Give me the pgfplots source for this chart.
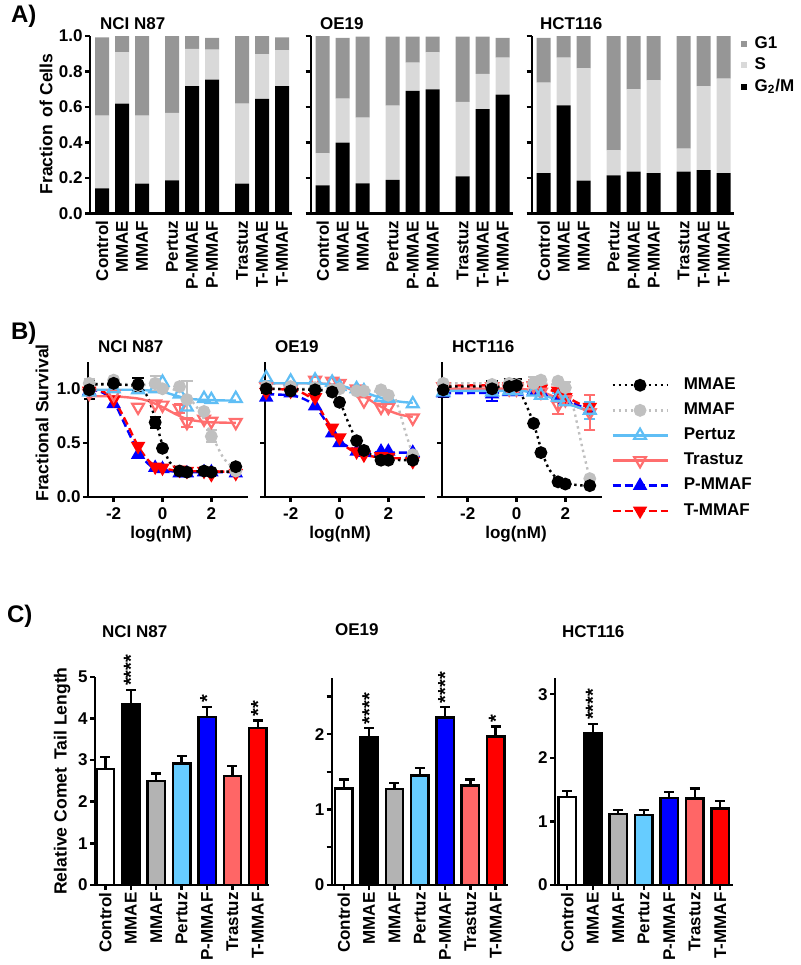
\documentclass[border=0pt]{standalone}
\usepackage{fontspec}
\setmainfont{Liberation Sans}
\usepackage{pgfplots}
\pgfplotsset{compat=1.18}
\definecolor{gone}{RGB}{150,150,150}
\definecolor{sph}{RGB}{217,217,217}
\definecolor{cgray}{RGB}{179,179,179}
\definecolor{lblue}{RGB}{102,204,255}
\definecolor{salmon}{RGB}{255,102,102}
\definecolor{pblue}{RGB}{0,0,255}
\definecolor{tred}{RGB}{255,0,0}
\definecolor{dgray}{RGB}{192,192,192}
\definecolor{bblue}{RGB}{95,190,245}
\definecolor{bsalmon}{RGB}{255,110,110}
\newcommand{\tck}{\fontsize{8.5}{10}\selectfont\bfseries}
\newcommand{\lbl}{\fontsize{8.5}{10}\selectfont\bfseries}
\tikzset{starlbl/.style={rotate=90, anchor=west, font=\fontsize{10}{12}\selectfont\bfseries, inner sep=1pt}}
\pgfplotsset{
  base/.style={scale only axis, anchor=south west, clip=false, enlargelimits=false,
    axis x line*=bottom, axis y line*=left,
    axis line style={line width=1.2pt},
    tick style={line width=1.2pt, black},
    tick align=outside, major tick length=2.5pt, minor tick length=2.5pt,
    tick label style={font=\tck, inner sep=1pt},
    /pgf/number format/assume math mode=true},
  aax/.style={width=101pt, height=88.65pt, xmin=-0.6, xmax=9.5, ymin=0, ymax=1,
    ybar stacked, bar width=7pt,
    xtick={0,1,2,3.5,4.5,5.5,7,8,9},
    xticklabels={Control,MMAE,MMAF,Pertuz,P-MMAE,P-MMAF,Trastuz,T-MMAE,T-MMAF},
    xticklabel style={rotate=90, anchor=east},
    x tick style={draw=none},
    ytick={0,0.2,0.4,0.6,0.8,1},
    yticklabel style={/pgf/number format/.cd, fixed, fixed zerofill, precision=1}},
  bax/.style={width=80pt, height=67.65pt, xmin=-3.05, xmax=3.5, ymin=0, ymax=1.25,
    xtick={-2,0,2}, ytick={0,0.5,1}, xticklabel style={yshift=-1.5pt},
    yticklabel style={/pgf/number format/.cd, fixed, fixed zerofill, precision=1}},
  cax/.style={ybar, bar width=8.75pt, every axis plot post/.append style={bar shift=0pt},
    ymin=0, xtick={0,1,2,3,4,5,6},
    xticklabels={Control,MMAE,MMAF,Pertuz,P-MMAF,Trastuz,T-MMAF},
    xticklabel style={rotate=90, anchor=east}},
  cbar/.style={draw=black, line width=1.2pt, fill=#1,
    error bars/.cd, y dir=plus, y explicit,
    error bar style={line width=1.2pt, draw=black},
    error mark options={rotate=90, mark size=2.5pt, line width=1.2pt, draw=black}},
  sE/.style={black, line width=1.2pt, dash pattern=on 1.2pt off 1.8pt, mark=*, mark size=2.6pt, mark options={solid, fill=black}},
  sF/.style={dgray, line width=1.2pt, dash pattern=on 1.2pt off 1.8pt, mark=*, mark size=2.6pt, mark options={solid, fill=dgray}},
  sP/.style={bblue, line width=1.2pt, solid, mark=triangle, mark size=3.4pt, mark options={solid, line width=1.1pt}},
  sT/.style={bsalmon, line width=1.2pt, solid, mark=triangle, mark size=3.4pt, mark options={solid, rotate=180, line width=1.1pt}},
  sPM/.style={pblue, line width=1.2pt, dash pattern=on 4pt off 2pt, mark=triangle*, mark size=3pt, mark options={solid, fill=pblue}},
  sTM/.style={tred, line width=1.2pt, dash pattern=on 4pt off 2pt, mark=triangle*, mark size=3pt, mark options={solid, rotate=180, fill=tred}},
  fit/.style={no marks, smooth, forget plot},
  dat/.style={only marks, forget plot},
  eb/.style={forget plot, draw=none, mark=none, error bars/.cd, y dir=both, y explicit,
    error bar style={draw=#1, line width=1pt, solid},
    error mark options={draw=#1, rotate=90, mark size=2.8pt, line width=1pt, solid}},
}
\begin{document}
\begin{tikzpicture}
\begin{scope}[x=0.5pt,y=-0.5pt]
\path[use as bounding box] (0,0) rectangle (800,965);
\node[anchor=west, font=\fontsize{12}{14}\selectfont\bfseries] at (4,16) {A)};
\node[anchor=west, font=\fontsize{12}{14}\selectfont\bfseries] at (4,333) {B)};
\node[anchor=west, font=\fontsize{12}{14}\selectfont\bfseries] at (0,616) {C)};
\node[anchor=west, font=\lbl] at (93,24) {NCI N87};
\node[anchor=west, font=\lbl] at (313,24) {OE19};
\node[anchor=west, font=\lbl] at (533,24) {HCT116};
\node[anchor=west, font=\lbl] at (91,347) {NCI N87};
\node[anchor=west, font=\lbl] at (268,347) {OE19};
\node[anchor=west, font=\lbl] at (445,347) {HCT116};
\node[anchor=west, font=\lbl] at (95,632) {NCI N87};
\node[anchor=west, font=\lbl] at (328,630) {OE19};
\node[anchor=west, font=\lbl] at (555,632) {HCT116};
\node[rotate=90, font=\fontsize{8.8}{10}\selectfont\bfseries] at (46,124) {Fraction\, of Cells};
\node[rotate=90, font=\fontsize{8.8}{10}\selectfont\bfseries] at (42,423) {Fractional Survival};
\node[rotate=90, font=\fontsize{8.8}{10}\selectfont\bfseries] at (62,781) {Relative Comet\, Tail Length};
\node[font=\lbl, inner sep=0pt] at (161,534) {log(nM)};
\node[font=\lbl, inner sep=0pt] at (340,534) {log(nM)};
\node[font=\lbl, inner sep=0pt] at (516,534) {log(nM)};
\end{scope}

% ---------------- Panel A ----------------
\begin{axis}[base, aax, at={(45pt,-106.65pt)}]
\addplot[fill=black, draw=none] coordinates {(0,0.141)(1,0.618)(2,0.167)(3.5,0.186)(4.5,0.718)(5.5,0.754)(7,0.167)(8,0.645)(9,0.718)};
\addplot[fill=sph, draw=none] coordinates {(0,0.410)(1,0.290)(2,0.384)(3.5,0.380)(4.5,0.209)(5.5,0.169)(7,0.451)(8,0.252)(9,0.201)};
\addplot[fill=gone, draw=none] coordinates {(0,0.441)(1,0.092)(2,0.449)(3.5,0.434)(4.5,0.073)(5.5,0.066)(7,0.382)(8,0.103)(9,0.073)};
\end{axis}
\begin{axis}[base, aax, at={(155.35pt,-106.65pt)}, yticklabels={}]
\addplot[fill=black, draw=none] coordinates {(0,0.158)(1,0.398)(2,0.169)(3.5,0.188)(4.5,0.690)(5.5,0.699)(7,0.209)(8,0.588)(9,0.669)};
\addplot[fill=sph, draw=none] coordinates {(0,0.180)(1,0.249)(2,0.370)(3.5,0.419)(4.5,0.160)(5.5,0.209)(7,0.419)(8,0.198)(9,0.209)};
\addplot[fill=gone, draw=none] coordinates {(0,0.662)(1,0.342)(2,0.457)(3.5,0.389)(4.5,0.146)(5.5,0.088)(7,0.368)(8,0.210)(9,0.111)};
\end{axis}
\begin{axis}[base, aax, at={(265.85pt,-106.65pt)}, yticklabels={},
  legend style={at={(1.035,1.014)}, anchor=north west, draw=none, fill=none, font=\lbl,
    inner sep=0pt, nodes={inner sep=1.2pt}, row sep=0.8pt, /tikz/column sep=2.5pt},
  legend cell align=left, reverse legend,
  legend image code/.code={\fill[#1] (0pt,-1.5pt) rectangle (3pt,1.5pt);}]
\addplot[fill=black, draw=none] coordinates {(0,0.226)(1,0.609)(2,0.184)(3.5,0.214)(4.5,0.235)(5.5,0.226)(7,0.235)(8,0.244)(9,0.226)};
\addplot[fill=sph, draw=none] coordinates {(0,0.511)(1,0.269)(2,0.634)(3.5,0.141)(4.5,0.464)(5.5,0.524)(7,0.130)(8,0.474)(9,0.533)};
\addplot[fill=gone, draw=none] coordinates {(0,0.252)(1,0.122)(2,0.182)(3.5,0.645)(4.5,0.301)(5.5,0.250)(7,0.635)(8,0.282)(9,0.241)};
\legend{G\textsubscript{2}/M, S, G1}
\end{axis}

% ---------------- Panel B ----------------
\begin{axis}[base, bax, at={(44pt,-248.5pt)}]
\addplot[sPM, fit] coordinates {(-3,0.99)(-2.5,0.97)(-2,0.88)(-1.5,0.65)(-1,0.42)(-0.5,0.29)(0,0.25)(0.5,0.235)(1,0.23)(2,0.23)(3,0.23)};
\addplot[sTM, fit] coordinates {(-3,0.99)(-2.5,0.98)(-2,0.9)(-1.5,0.7)(-1,0.47)(-0.5,0.32)(0,0.27)(0.5,0.245)(1,0.24)(2,0.235)(3,0.235)};
\addplot[sT, fit] coordinates {(-3,0.93)(-2,0.93)(-1,0.91)(-0.5,0.88)(0,0.83)(0.5,0.77)(1,0.72)(1.5,0.70)(2,0.69)(3,0.685)};
\addplot[sP, fit] coordinates {(-3,0.99)(-1,0.99)(0,0.97)(0.5,0.94)(1,0.91)(1.5,0.90)(2,0.895)(3,0.89)};
\addplot[sF, fit] coordinates {(-3,1.05)(-1,1.04)(0,1.02)(0.5,0.99)(1,0.93)(1.5,0.80)(2,0.58)(2.5,0.36)(3,0.25)};
\addplot[sE, fit] coordinates {(-3,1.04)(-2,1.04)(-1,1.02)(-0.6,0.92)(-0.3,0.72)(0,0.48)(0.3,0.32)(0.7,0.25)(1,0.24)(2,0.235)(3,0.235)};
\addplot[eb=dgray] coordinates {(-3,1.05) +- (0,0.04) (-0.3,1.05) +- (0,0.07) (1,0.9) +- (0,0.17) (2,0.56) +- (0,0.055)};
\addplot[eb=bsalmon] coordinates {(1,0.69) +- (0,0.04) (0.7,0.82) +- (0,0.04)};
\addplot[eb=black] coordinates {(-3,0.99) +- (0,0.08) (-1,1.04) +- (0,0.06) (-0.3,0.69) +- (0,0.05)};
\addplot[sPM, dat] coordinates {(-3,0.98)(-2,0.86)(-1,0.39)(-0.3,0.27)(0,0.26)(0.7,0.22)(1,0.22)(1.7,0.23)(2,0.23)(3,0.22)};
\addplot[sTM, dat] coordinates {(-3,0.98)(-2,0.9)(-1,0.47)(-0.3,0.28)(0,0.27)(0.7,0.25)(1,0.24)(1.7,0.24)(2,0.21)(3,0.22)};
\addplot[sT, dat] coordinates {(-3,0.96)(-2,0.95)(-1,0.83)(-0.3,0.86)(0,0.85)(0.7,0.82)(1,0.69)(1.7,0.72)(2,0.70)(3,0.69)};
\addplot[sP, dat] coordinates {(-3,0.97)(-2,1.0)(-1,0.99)(-0.3,1.0)(0,1.06)(0.7,0.95)(1,0.83)(1.7,0.91)(2,0.90)(3,0.91)};
\addplot[sF, dat] coordinates {(-3,1.05)(-2,1.08)(-1,1.03)(-0.3,1.05)(0,1.0)(0.7,1.02)(1,0.9)(1.7,0.79)(2,0.56)(3,0.24)};
\addplot[sE, dat] coordinates {(-3,0.99)(-2,1.05)(-1,1.04)(-0.3,0.69)(0,0.45)(0.7,0.24)(1,0.23)(1.7,0.24)(2,0.23)(3,0.28)};
\end{axis}
\begin{axis}[base, bax, at={(132.5pt,-248.5pt)}, yticklabels={}]
\addplot[sPM, fit] coordinates {(-3,0.95)(-2,0.94)(-1.5,0.91)(-1,0.84)(-0.5,0.68)(0,0.52)(0.5,0.45)(1,0.42)(2,0.41)(3,0.41)};
\addplot[sTM, fit] coordinates {(-3,1.0)(-2,0.99)(-1.5,0.96)(-1,0.88)(-0.5,0.70)(0,0.52)(0.5,0.43)(1,0.39)(1.5,0.37)(2,0.36)(3,0.355)};
\addplot[sT, fit] coordinates {(-3,1.05)(-1,1.05)(0,1.03)(0.5,0.99)(1,0.93)(1.5,0.86)(2,0.80)(2.5,0.76)(3,0.74)};
\addplot[sP, fit] coordinates {(-3,1.05)(-1,1.05)(0,1.03)(0.5,1.0)(1,0.97)(1.5,0.93)(2,0.90)(2.5,0.88)(3,0.87)};
\addplot[sF, fit] coordinates {(-3,1.0)(0,1.0)(1,0.99)(2,0.95)(2.3,0.9)(2.7,0.6)(3,0.39)};
\addplot[sE, fit] coordinates {(-3,1.0)(-1,0.99)(-0.5,0.97)(0,0.88)(0.3,0.72)(0.7,0.52)(1,0.43)(1.5,0.37)(2,0.345)(3,0.34)};
\addplot[eb=dgray] coordinates {(-3,1.02) +- (0,0.05)};
\addplot[eb=black] coordinates {(-3,1.0) +- (0,0.04)};
\addplot[sPM, dat] coordinates {(-3,0.92)(-2,0.96)(-1,0.84)(-0.3,0.59)(0,0.5)(0.7,0.42)(1,0.41)(1.7,0.42)(2,0.42)(3,0.41)};
\addplot[sTM, dat] coordinates {(-3,0.97)(-2,0.98)(-1,0.92)(-0.3,0.64)(0,0.55)(0.7,0.42)(1,0.39)(1.7,0.375)(2,0.37)(3,0.33)};
\addplot[sT, dat] coordinates {(-3,1.02)(-2,1.0)(-1,1.08)(-0.3,1.07)(0,1.05)(0.7,1.0)(1,0.89)(1.7,0.83)(2,0.83)(3,0.73)};
\addplot[sP, dat] coordinates {(-3,1.1)(-2,1.07)(-1,1.08)(-0.3,1.06)(0,1.02)(0.7,1.0)(1,0.98)(1.7,0.92)(2,0.91)(3,0.86)};
\addplot[sF, dat] coordinates {(-3,1.02)(-2,1.02)(-1,1.01)(-0.3,0.99)(0,1.0)(0.7,0.98)(1,0.98)(1.7,0.99)(2,0.94)(3,0.39)};
\addplot[sE, dat] coordinates {(-3,1.0)(-2,0.98)(-1,0.99)(-0.3,0.97)(0,0.875)(0.7,0.52)(1,0.43)(1.7,0.34)(2,0.34)(3,0.34)};
\end{axis}
\begin{axis}[base, bax, at={(221pt,-248.5pt)}, yticklabels={},
  legend style={at={(1.056,0.898)}, anchor=north west, draw=none, fill=none, font=\lbl,
    inner sep=0pt, nodes={inner sep=1pt}, row sep=3.2pt, /tikz/column sep=6.5pt},
  legend cell align=left,
  legend image code/.code={\draw[mark repeat=2, mark phase=2, #1] plot coordinates {(0pt,0pt) (13.75pt,0pt) (27.5pt,0pt)};}]
\addplot[sPM, fit] coordinates {(-3,0.96)(0,0.96)(1,0.95)(1.5,0.92)(2,0.89)(2.5,0.85)(3,0.80)};
\addplot[sTM, fit] coordinates {(-3,1.03)(0,1.03)(1,1.01)(1.5,0.98)(2,0.93)(2.5,0.87)(3,0.82)};
\addplot[sT, fit] coordinates {(-3,1.0)(0,1.0)(1,0.97)(1.5,0.93)(2,0.88)(2.5,0.83)(3,0.79)};
\addplot[sP, fit] coordinates {(-3,0.98)(0,0.98)(0.5,0.97)(1,0.95)(1.5,0.91)(2,0.87)(2.5,0.83)(3,0.80)};
\addplot[sF, fit] coordinates {(-3,1.05)(0,1.05)(1,1.05)(1.7,1.03)(2,0.98)(2.3,0.85)(2.7,0.45)(3,0.17)};
\addplot[sE, fit] coordinates {(-3,1.02)(-1,1.02)(0,1.0)(0.3,0.9)(0.7,0.68)(1,0.45)(1.3,0.27)(1.7,0.16)(2,0.13)(2.5,0.11)(3,0.105)};
\addplot[eb=bsalmon] coordinates {(1.7,0.85) +- (0,0.08) (3,0.78) +- (0,0.16) (0.7,1.03) +- (0,0.05)};
\addplot[eb=bblue] coordinates {(3,0.8) +- (0,0.08) (1.7,0.92) +- (0,0.04)};
\addplot[eb=pblue] coordinates {(-1,0.95) +- (0,0.06)};
\addplot[eb=dgray] coordinates {(0.7,1.05) +- (0,0.06) (2,1.01) +- (0,0.05)};
\addplot[eb=black] coordinates {(-3,0.99) +- (0,0.07) (-1,1.0) +- (0,0.07) (-0.3,1.02) +- (0,0.07) (0,1.03) +- (0,0.06)};
\addplot[sPM, dat] coordinates {(-3,0.96)(-1,0.95)(-0.3,0.97)(0,0.97)(0.7,0.98)(1,0.97)(1.7,0.93)(2,0.9)(3,0.8)};
\addplot[sTM, dat] coordinates {(-3,1.02)(-1,1.02)(-0.3,1.02)(0,1.02)(0.7,1.02)(1,1.0)(1.7,0.98)(2,0.92)(3,0.83)};
\addplot[sT, dat] coordinates {(-3,1.02)(-1,1.02)(-0.3,1.0)(0,1.0)(0.7,1.03)(1,0.97)(1.7,0.85)(2,0.9)(3,0.78)};
\addplot[sP, dat] coordinates {(-3,0.97)(-1,0.97)(-0.3,0.98)(0,0.98)(0.7,0.97)(1,0.94)(1.7,0.92)(2,0.88)(3,0.8)};
\addplot[sF, dat] coordinates {(-3,1.05)(-1,1.04)(-0.3,1.05)(0,1.04)(0.7,1.05)(1,1.08)(1.7,1.07)(2,1.01)(3,0.17)};
\addplot[sE, dat] coordinates {(-3,0.99)(-1,1.0)(-0.3,1.02)(0,1.03)(0.7,0.68)(1,0.41)(1.7,0.14)(2,0.12)(3,0.105)};
\addlegendimage{sE}\addlegendentry{MMAE}
\addlegendimage{sF}\addlegendentry{MMAF}
\addlegendimage{sP}\addlegendentry{Pertuz}
\addlegendimage{sT}\addlegendentry{Trastuz}
\addlegendimage{sPM}\addlegendentry{P-MMAF}
\addlegendimage{sTM}\addlegendentry{T-MMAF}
\end{axis}

% ---------------- Panel C ----------------
\begin{axis}[base, cax, at={(47.5pt,-442.5pt)}, width=87.15pt, height=104.15pt,
  xmin=-0.41, xmax=6.45, ymax=5, ytick={0,1,2,3,4,5}]
\addplot[cbar=white] coordinates {(0,2.78) +- (0,0.30)};
\addplot[cbar=black] coordinates {(1,4.35) +- (0,0.33)};
\addplot[cbar=cgray] coordinates {(2,2.50) +- (0,0.18)};
\addplot[cbar=lblue] coordinates {(3,2.92) +- (0,0.18)};
\addplot[cbar=pblue] coordinates {(4,4.04) +- (0,0.24)};
\addplot[cbar=salmon] coordinates {(5,2.62) +- (0,0.24)};
\addplot[cbar=tred] coordinates {(6,3.77) +- (0,0.18)};
\node[starlbl] at (axis cs:1,4.72) {****};
\node[starlbl] at (axis cs:4,4.32) {*};
\node[starlbl] at (axis cs:6,3.99) {**};
\end{axis}
\begin{axis}[base, cax, at={(165.85pt,-442.5pt)}, width=88.3pt, height=103.35pt,
  xmin=-0.48, xmax=6.5, ymax=2.74, ytick={0,1,2}, minor ytick={0.5,1.5,2.5}]
\addplot[cbar=white] coordinates {(0,1.28) +- (0,0.12)};
\addplot[cbar=black] coordinates {(1,1.96) +- (0,0.12)};
\addplot[cbar=cgray] coordinates {(2,1.27) +- (0,0.08)};
\addplot[cbar=lblue] coordinates {(3,1.45) +- (0,0.10)};
\addplot[cbar=pblue] coordinates {(4,2.22) +- (0,0.14)};
\addplot[cbar=salmon] coordinates {(5,1.32) +- (0,0.08)};
\addplot[cbar=tred] coordinates {(6,1.97) +- (0,0.13)};
\node[starlbl] at (axis cs:1,2.10) {****};
\node[starlbl] at (axis cs:4,2.38) {****};
\node[starlbl] at (axis cs:6,2.12) {*};
\end{axis}
\begin{axis}[base, cax, at={(277.5pt,-442.5pt)}, width=88.85pt, height=103.35pt,
  xmin=-0.48, xmax=6.49, ymax=3.25, ytick={0,1,2,3}]
\addplot[cbar=white] coordinates {(0,1.38) +- (0,0.10)};
\addplot[cbar=black] coordinates {(1,2.38) +- (0,0.15)};
\addplot[cbar=cgray] coordinates {(2,1.12) +- (0,0.06)};
\addplot[cbar=lblue] coordinates {(3,1.10) +- (0,0.08)};
\addplot[cbar=pblue] coordinates {(4,1.37) +- (0,0.09)};
\addplot[cbar=salmon] coordinates {(5,1.36) +- (0,0.16)};
\addplot[cbar=tred] coordinates {(6,1.20) +- (0,0.12)};
\node[starlbl] at (axis cs:1,2.56) {****};
\end{axis}
\end{tikzpicture}
\end{document}
